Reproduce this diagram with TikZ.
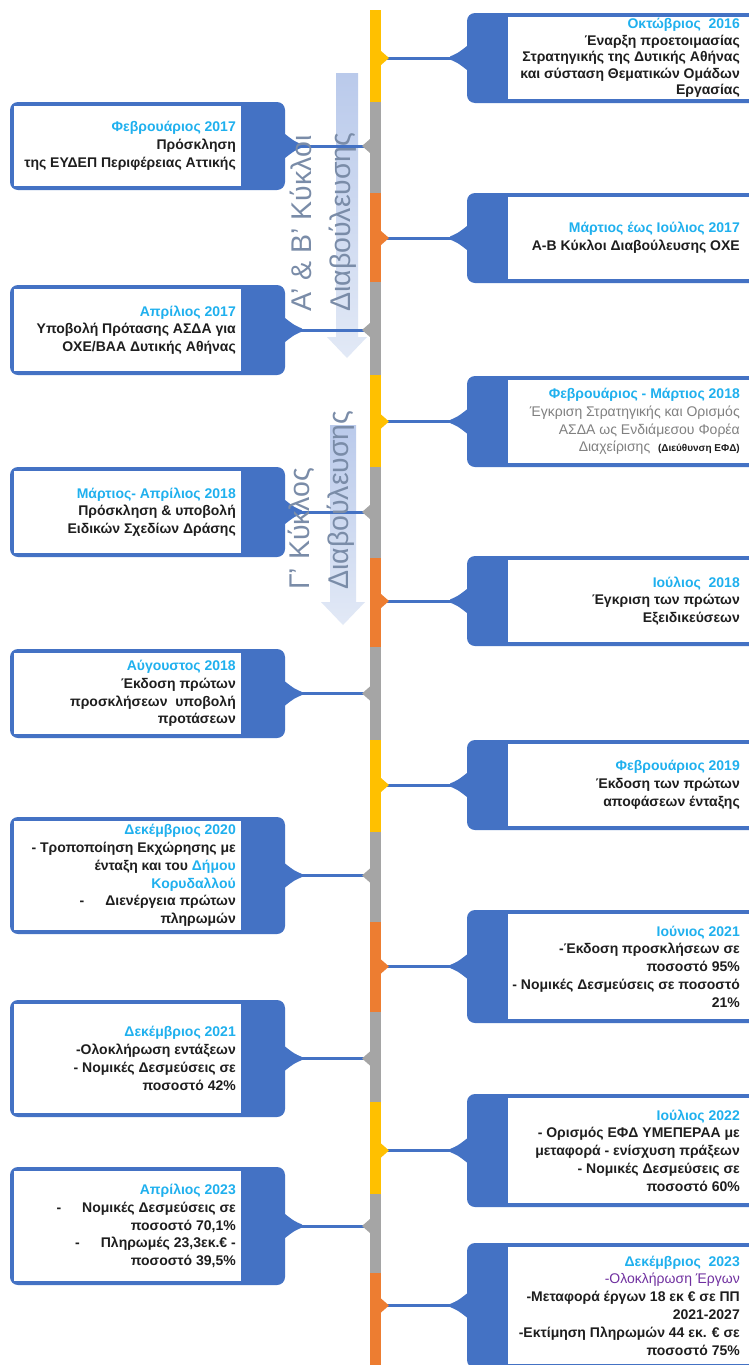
\documentclass[tikz,border=0pt]{standalone}
\usepackage{fontspec}
\setmainfont{Liberation Sans}
\usetikzlibrary{calc}
\definecolor{boxblue}{HTML}{4472C4}
\definecolor{spyel}{HTML}{FFC000}
\definecolor{spora}{HTML}{ED7D31}
\definecolor{spgray}{HTML}{A5A5A5}
\definecolor{datec}{HTML}{1FB0EE}
\definecolor{txtc}{HTML}{1E1E1E}
\definecolor{purp}{HTML}{7030A0}
\definecolor{lgray}{HTML}{808080}
\definecolor{rotc}{HTML}{7A8CA8}
\definecolor{arrA}{HTML}{BACAEB}
\definecolor{arrB}{HTML}{A0B7E3}
\definecolor{arrC}{HTML}{E2E9F6}
\newcommand\dt[1]{\textcolor{datec}{#1}}
\tikzset{
  rbox/.style={fill=boxblue, rounded corners=8pt, inner sep=0pt, outer sep=0pt},
  txt/.style={align=right, inner sep=0pt, text=txtc, font=\bfseries\fontsize{14}{17.8}\selectfont},
  conn/.style={draw=boxblue, line width=3pt},
  rotlab/.style={align=left, inner sep=0pt, text=rotc, rotate=90, font=\fontsize{28.5}{39}\selectfont},
}
\newcommand\revent[6][]{%
  \node[rbox, anchor=north west, minimum width=290pt, minimum height={#4-#3}] (#2) at (467,#3) {};
  \fill[white] ([xshift=41pt,yshift=-4pt]#2.north west) rectangle ([xshift=-4pt,yshift=4pt]#2.south east);
  \node[txt, #1, anchor=east] (#2t) at ([xshift=-17pt]#2.east) {#6};
  \coordinate (#2s) at (#2.west -| spR);
  \fill[boxblue] ([yshift=12pt]#2.west) .. controls ([xshift=-9pt,yshift=5pt]#2.west) .. ([xshift=-17pt,yshift=1.5pt]#2.west) -- ([xshift=-17pt,yshift=-1.5pt]#2.west) .. controls ([xshift=-9pt,yshift=-5pt]#2.west) .. ([yshift=-12pt]#2.west) -- cycle;
  \draw[conn] (#2s) -- (#2.west);
  \fill[#5] (#2s) ++(0,-7) -- ++(8,7) -- ++(-8,7) -- cycle;
}
\newcommand\levent[5][]{%
  \node[rbox, anchor=north west, minimum width=275pt, minimum height={#4-#3}] (#2) at (10,#3) {};
  \fill[white] ([xshift=4pt,yshift=-4pt]#2.north west) rectangle ([xshift=-44pt,yshift=4pt]#2.south east);
  \node[txt, #1, anchor=east] (#2t) at ([xshift=-49pt]#2.east) {#5};
  \coordinate (#2s) at (#2.east -| spL);
  \fill[boxblue] ([yshift=12pt]#2.east) .. controls ([xshift=9pt,yshift=5pt]#2.east) .. ([xshift=17pt,yshift=1.5pt]#2.east) -- ([xshift=17pt,yshift=-1.5pt]#2.east) .. controls ([xshift=9pt,yshift=-5pt]#2.east) .. ([yshift=-12pt]#2.east) -- cycle;
  \draw[conn] (#2.east) -- (#2s);
  \fill[spgray] (#2s) ++(0,-7) -- ++(-8,7) -- ++(8,7) -- cycle;
}
\begin{document}
\begin{tikzpicture}[x=1pt,y=-1pt]
\useasboundingbox (0,0) rectangle (748,1365);
\fill[white] (0,0) rectangle (748,1365);
\coordinate (spR) at (381,0);
\coordinate (spL) at (370,0);
% background arrows
\shade[top color=arrA, middle color=arrB, bottom color=arrC]
  (336,73) -- (358,73) -- (358,337) -- (367,337) -- (347,358) -- (327,337) -- (336,337) -- cycle;
\shade[top color=arrA, middle color=arrB, bottom color=arrC]
  (330,425) -- (356,425) -- (356,602) -- (365,602) -- (343,625) -- (321,602) -- (330,602) -- cycle;
% spine
\foreach \a/\b/\c in {10/102/spyel,102/193/spgray,193/282/spora,282/375/spgray,375/467/spyel,467/558/spgray,558/647/spora,647/740/spgray,740/832/spyel,832/922/spgray,922/1012/spora,1012/1102/spgray,1102/1194/spyel,1194/1273/spgray,1273/1368/spora}
  \fill[\c] (370,\a) rectangle (381,\b);
% right events
\revent[font=\bfseries\fontsize{14}{16.5}\selectfont]{r1}{13}{103}{spyel}{\dt{Οκτώβριος\ \ 2016}\\Έναρξη προετοιμασίας\\Στρατηγικής της Δυτικής Αθήνας\\και σύσταση Θεματικών Ομάδων\\Εργασίας}
\revent{r2}{193}{283}{spora}{\dt{Μάρτιος έως Ιούλιος 2017}\\Α-Β Κύκλοι Διαβούλευσης ΟΧΕ}
\revent{r3}{376}{467}{spyel}{\dt{Φεβρουάριος - Μάρτιος 2018}\\{\mdseries\color{lgray}Έγκριση Στρατηγικής και Ορισμός}\\{\mdseries\color{lgray}ΑΣΔΑ ως Ενδιάμεσου Φορέα}\\{\mdseries\color{lgray}Διαχείρισης}\ \ {\fontsize{10}{12}\selectfont(Διεύθυνση ΕΦΔ)}}
\revent{r4}{556}{646}{spora}{\dt{Ιούλιος\ \ 2018}\\Έγκριση των πρώτων\\Εξειδικεύσεων}
\revent{r5}{740}{830}{spyel}{\dt{Φεβρουάριος 2019}\\Έκδοση των πρώτων\\αποφάσεων ένταξης}
\revent{r6}{910}{1023}{spora}{\dt{Ιούνιος 2021}\\-Έκδοση προσκλήσεων σε\\ποσοστό 95\%\\- Νομικές Δεσμεύσεις σε ποσοστό\\21\%}
\revent{r7}{1094}{1207}{spyel}{\dt{Ιούλιος 2022}\\- Ορισμός ΕΦΔ ΥΜΕΠΕΡΑΑ με\\μεταφορά - ενίσχυση πράξεων\\- Νομικές Δεσμεύσεις σε\\ποσοστό 60\%}
\revent{r8}{1243}{1368}{spora}{\dt{Δεκέμβριος\ \ 2023}\\\textcolor{purp}{\mdseries -Ολοκλήρωση Έργων}\\-Μεταφορά έργων 18 εκ € σε ΠΠ\\2021-2027\\-Εκτίμηση Πληρωμών 44 εκ. € σε\\ποσοστό 75\%}
% left events
\levent{l1}{102}{190}{\dt{Φεβρουάριος 2017}\\Πρόσκληση\\της ΕΥΔΕΠ Περιφέρειας Αττικής}
\levent{l2}{285}{375}{\dt{Απρίλιος 2017}\\Υποβολή Πρότασης ΑΣΔΑ για\\ΟΧΕ/ΒΑΑ Δυτικής Αθήνας}
\levent{l3}{467}{557}{\dt{Μάρτιος- Απρίλιος 2018}\\Πρόσκληση \& υποβολή\\Ειδικών Σχεδίων Δράσης}
\levent{l4}{649}{738}{\dt{Αύγουστος 2018}\\Έκδοση πρώτων\\προσκλήσεων\ \ υποβολή\\προτάσεων}
\levent{l5}{817}{934}{\dt{Δεκέμβριος 2020}\\- Τροποποίηση Εκχώρησης με\\ένταξη και του \dt{Δήμου}\\\dt{Κορυδαλλού}\\-\hspace{1.5em}Διενέργεια πρώτων\\πληρωμών}
\levent{l6}{1000}{1117}{\dt{Δεκέμβριος 2021}\\-Ολοκλήρωση εντάξεων\\- Νομικές Δεσμεύσεις σε\\ποσοστό 42\%}
\levent{l7}{1167}{1285}{\dt{Απρίλιος 2023}\\-\hspace{1.5em}Νομικές Δεσμεύσεις σε\\ποσοστό 70,1\%\\-\hspace{1.5em}Πληρωμές 23,3εκ.€ -\\ποσοστό 39,5\%}
% rotated labels
\node[rotlab, anchor=south west] (c1) at (357,312) {Α' \& Β' Κύκλοι\\Διαβούλευσης};
\node[rotlab, anchor=south west] (c2) at (355,590) {Γ' Κύκλος\\Διαβούλευσης};
\end{tikzpicture}
\end{document}
